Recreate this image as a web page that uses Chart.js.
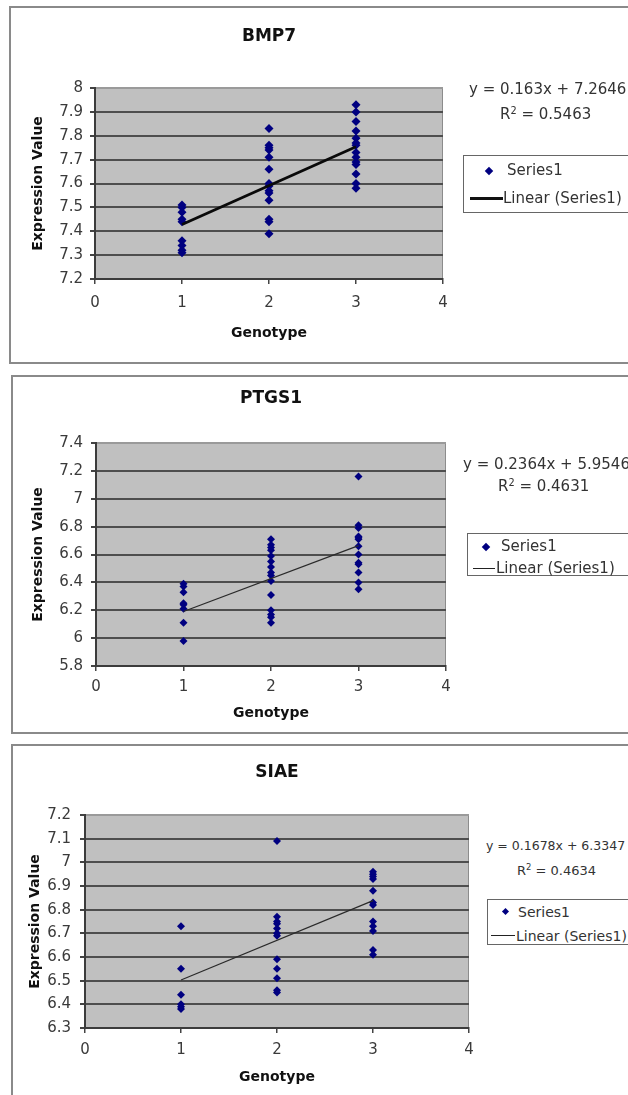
<!DOCTYPE html>
<html>
<head>
<meta charset="utf-8">
<script src="https://cdn.jsdelivr.net/npm/chart.js@4.4.1/dist/chart.umd.min.js"></script>
<style>
  body { margin: 0; background: #fff; width: 628px; height: 1095px; overflow: hidden; position: relative; font-family: "DejaVu Sans", sans-serif; }
  canvas { position: absolute; left: 0; }
  .frame { position: absolute; border: 2px solid #8a8a8a; box-sizing: border-box; }
  .eq { position: absolute; color: #333; white-space: nowrap; line-height: 1; }
  .eq sup { font-size: 0.65em; vertical-align: 0.55em; }
  .legend { position: absolute; border: 1.5px solid #666; background: #fff; box-sizing: border-box; }
  .row { position: absolute; white-space: nowrap; color: #333; line-height: 1; }
  .diamond { position: absolute; width: 5px; height: 5px; background: #000080; transform: rotate(45deg); }
  .tline { position: absolute; height: 0; border-top: 1px solid #222; }
</style>
</head>
<body>

<div class="frame" style="left:9px;top:6px;width:640px;height:358px"></div>
<div class="frame" style="left:11px;top:375px;width:640px;height:359px"></div>
<div class="frame" style="left:11px;top:744px;width:640px;height:400px"></div>

<canvas id="bmp7" width="485" height="360" style="top:0px"></canvas>
<canvas id="ptgs1" width="485" height="355" style="top:375px"></canvas>
<canvas id="siae" width="485" height="351" style="top:744px"></canvas>

<!-- panel 1 text -->
<div class="eq" style="left:469px;top:82px;font-size:15px">y = 0.163x + 7.2646</div>
<div class="eq" style="left:500px;top:106px;font-size:15px">R<sup>2</sup> = 0.5463</div>
<div class="legend" style="left:463px;top:155px;width:200px;height:58px">
  <div class="diamond" style="left:22px;top:12px;width:6px;height:6px"></div>
  <div class="row" style="left:43px;top:7px;font-size:15px">Series1</div>
  <div class="tline" style="left:6px;top:41px;width:33px;border-top:3px solid #111"></div>
  <div class="row" style="left:39px;top:35px;font-size:15px">Linear (Series1)</div>
</div>

<!-- panel 2 text -->
<div class="eq" style="left:463px;top:457px;font-size:15px">y = 0.2364x + 5.9546</div>
<div class="eq" style="left:498px;top:478px;font-size:15px">R<sup>2</sup> = 0.4631</div>
<div class="legend" style="left:467px;top:533px;width:200px;height:43px">
  <div class="diamond" style="left:15px;top:10px;width:6px;height:6px"></div>
  <div class="row" style="left:33px;top:5px;font-size:15px">Series1</div>
  <div class="tline" style="left:5px;top:34px;width:22px"></div>
  <div class="row" style="left:28px;top:27px;font-size:15px">Linear (Series1)</div>
</div>

<!-- panel 3 text -->
<div class="eq" style="left:486px;top:840px;font-size:12.5px">y = 0.1678x + 6.3347</div>
<div class="eq" style="left:517px;top:863px;font-size:13px">R<sup>2</sup> = 0.4634</div>
<div class="legend" style="left:487px;top:899px;width:200px;height:46px">
  <div class="diamond" style="left:15px;top:9px"></div>
  <div class="row" style="left:30px;top:5px;font-size:14px">Series1</div>
  <div class="tline" style="left:3px;top:35px;width:24px"></div>
  <div class="row" style="left:28px;top:29px;font-size:14px">Linear (Series1)</div>
</div>

<script>
// values, one array per genotype group
const genotypes = [1, 2, 3];

const bmp7Geno1 = [7.51, 7.50, 7.48, 7.45, 7.44, 7.36, 7.34, 7.32, 7.31];
const bmp7Geno2 = [7.83, 7.76, 7.75, 7.74, 7.71, 7.66, 7.60, 7.59, 7.57, 7.56, 7.53, 7.45, 7.44, 7.39];
const bmp7Geno3 = [7.93, 7.90, 7.86, 7.82, 7.79, 7.77, 7.76, 7.73, 7.71, 7.69, 7.68, 7.64, 7.60, 7.58];
const bmp7Trend = [7.428, 7.754];   // trendline at genotype 1 and 3
const bmp7Axis = [7.2, 8, 0.1];     // min, max, step

const ptgs1Geno1 = [6.39, 6.37, 6.33, 6.25, 6.24, 6.21, 6.11, 5.98];
const ptgs1Geno2 = [6.71, 6.67, 6.65, 6.63, 6.59, 6.55, 6.51, 6.47, 6.45, 6.41, 6.31, 6.20, 6.17, 6.15, 6.11];
const ptgs1Geno3 = [7.16, 6.81, 6.79, 6.73, 6.72, 6.71, 6.66, 6.60, 6.54, 6.53, 6.47, 6.40, 6.35];
const ptgs1Trend = [6.191, 6.664];
const ptgs1Axis = [5.8, 7.4, 0.2];

const siaeGeno1 = [6.73, 6.55, 6.44, 6.40, 6.39, 6.38];
const siaeGeno2 = [7.09, 6.77, 6.75, 6.74, 6.72, 6.70, 6.69, 6.59, 6.55, 6.51, 6.46, 6.45];
const siaeGeno3 = [6.96, 6.95, 6.94, 6.93, 6.88, 6.83, 6.82, 6.75, 6.73, 6.71, 6.63, 6.61];
const siaeTrend = [6.503, 6.838];
const siaeAxis = [6.3, 7.2, 0.1];

const genotypeTicks = [0, 4, 1];

// gray plot area like excel
const plotBackground = {
  id: 'plotBackground',
  beforeDraw(chart) {
    const {ctx, chartArea: a} = chart;
    ctx.save();
    ctx.fillStyle = '#c0c0c0';
    ctx.fillRect(a.left, a.top, a.width, a.height);
    ctx.strokeStyle = '#8c8c8c';
    ctx.lineWidth = 1;
    ctx.strokeRect(a.left + 0.5, a.top + 0.5, a.width - 1, a.height - 1);
    ctx.restore();
  }
};

function toPoints(groups) {
  const pts = [];
  groups.forEach((vals, i) => {
    for (const v of vals) pts.push({x: genotypes[i], y: v});
  });
  return pts;
}

// excel style labels: 8, 7.9, 7 (no trailing zeros)
function plainLabel(value) {
  return String(Number(value.toFixed(2)));
}

// g = where things sit inside this canvas (page coords minus canvas top)
function makePanel(id, title, groups, trend, axis, g, look) {
  const titleSize = 17, tickSize = 15, axisTitleSize = 14;
  const titleLh = titleSize * 1.2, axisLh = axisTitleSize * 1.2, tickLh = tickSize * 1.2;
  const canvas = document.getElementById(id);
  const W = canvas.width, H = canvas.height;

  const padLeft = g.yTitleX - axisLh / 2;
  const titleTop = g.titleY - titleLh / 2;
  const titleBottom = g.top - titleLh - titleTop;
  const xAxisBottom = g.xTitleY + axisLh / 2;

  new Chart(canvas, {
    type: 'scatter',
    data: {
      datasets: [
        {
          label: 'Series1',
          data: toPoints(groups),
          pointStyle: 'rectRot',
          pointRadius: look.pointRadius,
          backgroundColor: '#000080',
          borderColor: '#000080',
          borderWidth: 0,
          order: 2
        },
        {
          label: 'Linear (Series1)',
          type: 'line',
          data: [{x: genotypes[0], y: trend[0]}, {x: genotypes[2], y: trend[1]}],
          borderColor: look.trendColor,
          borderWidth: look.trendWidth,
          pointRadius: 0,
          fill: false,
          order: 1
        }
      ]
    },
    options: {
      responsive: false,
      animation: false,
      layout: { padding: { top: 0, left: padLeft, right: W - g.right, bottom: H - xAxisBottom } },
      plugins: {
        legend: { display: false },
        tooltip: { enabled: false },
        title: {
          display: true,
          text: title,
          fullSize: false,
          color: '#111',
          font: { family: 'DejaVu Sans', size: titleSize, weight: 'bold' },
          padding: { top: titleTop, bottom: titleBottom }
        }
      },
      scales: {
        x: {
          type: 'linear',
          min: genotypeTicks[0],
          max: genotypeTicks[1],
          ticks: {
            stepSize: genotypeTicks[2],
            color: '#3a3a3a',
            font: { family: 'DejaVu Sans', size: tickSize },
            padding: g.xLabelY - g.bottom - 5 - tickLh / 2,
            maxRotation: 0,
            callback: plainLabel
          },
          grid: { drawOnChartArea: false, drawTicks: true, tickLength: 5, color: '#444', lineWidth: 1.5 },
          border: { display: true, color: '#3c3c3c', width: 2 },
          title: {
            display: true,
            text: 'Genotype',
            color: '#111',
            font: { family: 'DejaVu Sans', size: axisTitleSize, weight: 'bold' },
            padding: 0
          },
          afterFit(scale) { scale.height = xAxisBottom - g.bottom; }
        },
        y: {
          min: axis[0],
          max: axis[1],
          ticks: {
            stepSize: axis[2],
            color: '#3a3a3a',
            font: { family: 'DejaVu Sans', size: tickSize },
            padding: g.tickPad,
            callback: plainLabel
          },
          grid: {
            tickLength: 5,
            lineWidth: 2,
            color: ctx => Math.abs(ctx.tick.value - axis[1]) < 1e-6 ? '#9a9a9a' : '#4e4e4e',
            tickColor: '#444'
          },
          border: { display: true, color: '#3c3c3c', width: 2 },
          title: {
            display: true,
            text: 'Expression Value',
            color: '#111',
            font: { family: 'DejaVu Sans', size: axisTitleSize, weight: 'bold' },
            padding: 0
          },
          afterFit(scale) { scale.width = g.left - padLeft; }
        }
      }
    },
    plugins: [plotBackground]
  });
}

makePanel('bmp7', 'BMP7', [bmp7Geno1, bmp7Geno2, bmp7Geno3], bmp7Trend, bmp7Axis,
  { left: 95, right: 443, top: 88, bottom: 279, titleY: 37, yTitleX: 38, xLabelY: 303, xTitleY: 333, tickPad: 7 },
  { pointRadius: 4.5, trendColor: '#0a0a0a', trendWidth: 2.8 });

makePanel('ptgs1', 'PTGS1', [ptgs1Geno1, ptgs1Geno2, ptgs1Geno3], ptgs1Trend, ptgs1Axis,
  { left: 96, right: 446, top: 443 - 375, bottom: 666 - 375, titleY: 399 - 375, yTitleX: 38, xLabelY: 687 - 375, xTitleY: 713 - 375, tickPad: 8 },
  { pointRadius: 4, trendColor: '#2a2a2a', trendWidth: 1.2 });

makePanel('siae', 'SIAE', [siaeGeno1, siaeGeno2, siaeGeno3], siaeTrend, siaeAxis,
  { left: 85, right: 469, top: 815 - 744, bottom: 1028 - 744, titleY: 773 - 744, yTitleX: 35, xLabelY: 1050 - 744, xTitleY: 1077 - 744, tickPad: 9 },
  { pointRadius: 4, trendColor: '#2a2a2a', trendWidth: 1.2 });
</script>
</body>
</html>
